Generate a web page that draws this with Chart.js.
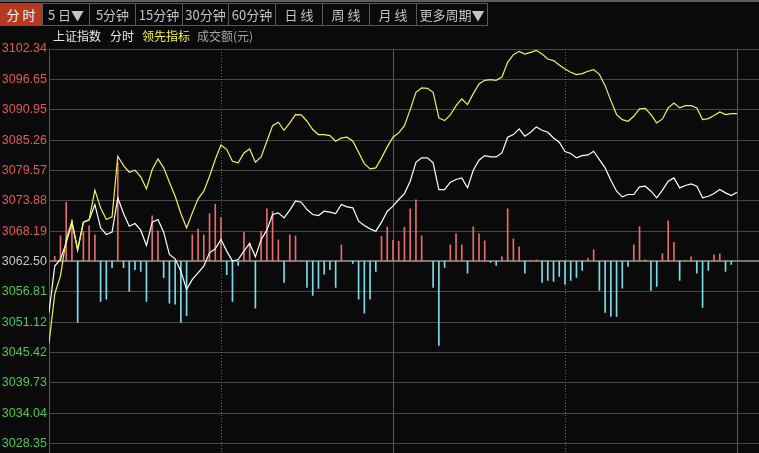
<!DOCTYPE html>
<html>
<head>
<meta charset="utf-8">
<script src="https://cdn.jsdelivr.net/npm/chart.js@4.4.0/dist/chart.umd.min.js"></script>
<style>
html,body{margin:0;padding:0;background:#0a0a0a;width:759px;height:453px;overflow:hidden;}
#wrap{position:absolute;left:0;top:0;width:759px;height:453px;}
#c{position:absolute;left:0;top:0;}
#topline{position:absolute;left:0;top:0;width:759px;height:2px;background:#5e5e5e;z-index:3;}
.btn{position:absolute;top:3px;height:23px;box-sizing:border-box;border:1px solid #5a5a5a;color:#c4c4c4;
 font:13px "Noto Sans CJK SC",sans-serif;line-height:21px;text-align:center;background:#0a0a0a;z-index:2;white-space:nowrap;}
.btn.active{background:#b53a1d;color:#f4f4f4;border-color:#b53a1d;}
.lg{position:absolute;top:28px;font:12px "Noto Sans CJK SC",sans-serif;line-height:16px;z-index:2;white-space:nowrap;}
</style>
</head>
<body>
<div id="wrap">
  <canvas id="c" width="759" height="453"></canvas>
  <div id="topline"></div>
  <div class="btn active" style="left:0;width:42px;">分 时</div>
  <div class="btn" style="left:42px;width:48px;">5 日▼</div>
  <div class="btn" style="left:89px;width:47px;">5分钟</div>
  <div class="btn" style="left:135px;width:48px;">15分钟</div>
  <div class="btn" style="left:182px;width:47px;">30分钟</div>
  <div class="btn" style="left:228px;width:48px;">60分钟</div>
  <div class="btn" style="left:275px;width:48px;">日 线</div>
  <div class="btn" style="left:322px;width:48px;">周 线</div>
  <div class="btn" style="left:369px;width:48px;">月 线</div>
  <div class="btn" style="left:416px;width:72px;">更多周期▼</div>
  <div class="lg" style="left:53px;color:#e6e6e6;">上证指数</div>
  <div class="lg" style="left:110px;color:#e6e6e6;">分时</div>
  <div class="lg" style="left:142px;color:#f2f23c;">领先指标</div>
  <div class="lg" style="left:197px;color:#a8a8a8;">成交额(元)</div>
</div>
<script>
// ---- data (4 trading days, 30 steps each, index 0 = first open) ----
const prevClose = 3062.50;
const yTicks = [3102.34, 3096.65, 3090.95, 3085.26, 3079.57, 3073.88, 3068.19,
                3062.50, 3056.81, 3051.12, 3045.42, 3039.73, 3034.04, 3028.35];
const dayBreaks = [30, 60, 90, 120];
const breakDotted = [true, false, true, false];

// 领先指标 (yellow)
const leadLine = [
  3047.12,3056.40,3059.80,3066.61,3070.05,3064.74,3069.86,3070.36,3075.86,3072.55,
  3070.36,3070.86,3082.23,3080.48,3079.23,3079.61,3078.36,3076.11,3079.73,3081.73,
  3080.04,3077.36,3074.73,3071.48,3068.80,3071.61,3074.23,3075.67,3078.48,3081.60,
  3084.35,
  3083.48,3081.29,3080.98,3082.85,3083.60,3081.10,3082.10,3085.04,3087.97,3088.60,
  3087.10,3088.47,3090.04,3089.97,3088.79,3087.23,3086.29,3086.29,3086.10,3085.04,
  3085.66,3085.79,3085.04,3082.98,3080.85,3079.85,3080.04,3081.92,3083.98,3085.79,
  3086.60,3087.97,3090.97,3094.22,3095.03,3094.97,3094.22,3089.41,3088.91,3089.97,
  3091.72,3092.97,3091.91,3093.97,3095.78,3096.47,3096.59,3096.47,3097.09,3099.84,
  3101.28,3101.90,3101.40,3101.72,3102.09,3101.40,3100.47,3100.16,3099.34,3098.59,
  3097.97,3097.53,3097.72,3098.16,3098.47,3097.59,3095.47,3092.66,3090.04,3089.10,
  3088.79,3089.72,3091.10,3091.22,3090.04,3088.47,3089.22,3091.29,3092.22,3091.29,
  3091.72,3091.72,3091.29,3089.10,3089.29,3089.85,3090.54,3090.04,3090.22,3090.22
];
// 上证指数 分时 (white)
const indexLine = [
  3052.87,3061.62,3062.86,3065.99,3069.74,3064.61,3069.86,3070.24,3073.17,3068.80,
  3067.55,3067.99,3074.42,3071.48,3069.11,3069.61,3068.36,3065.49,3069.86,3070.36,
  3067.99,3063.80,3062.99,3060.68,3057.24,3059.12,3060.37,3061.62,3064.11,3064.86,
  3066.61,
  3064.43,3062.55,3062.86,3064.43,3065.86,3063.36,3066.61,3068.36,3071.30,3071.61,
  3070.67,3072.11,3073.86,3073.61,3072.23,3071.30,3071.11,3071.92,3071.73,3071.48,
  3073.17,3072.73,3072.55,3070.05,3069.24,3068.61,3068.17,3069.86,3071.92,3072.86,
  3074.11,3075.23,3077.54,3081.10,3081.92,3081.92,3080.98,3075.98,3075.98,3077.36,
  3077.86,3078.17,3076.29,3079.61,3081.48,3082.35,3082.10,3082.10,3082.85,3085.79,
  3086.29,3087.35,3085.98,3086.73,3087.73,3087.10,3086.73,3085.66,3084.85,3083.10,
  3082.73,3081.92,3082.35,3082.48,3083.17,3081.60,3080.04,3077.73,3075.67,3074.61,
  3075.05,3075.05,3076.48,3076.61,3075.67,3074.42,3075.86,3077.54,3078.17,3076.29,
  3076.73,3077.04,3076.61,3074.42,3074.73,3075.23,3075.98,3075.36,3074.86,3075.48
];
// red/green strength bars (arbitrary units)
const strengthBars = [
  0,5,25.7,59,41.7,-61,30,35.7,26.7,-40,-37.7,-6.3,99,-6.3,-30,-8.3,-10,-40,45.7,30.7,
  -16.3,-41.7,-42.7,-61,-54.3,26.7,32.3,26.7,47.7,57,44,
  -13.3,-40,-4,29,18.3,-46.7,30,52.7,50,21.7,-21,26.7,25.7,0.5,-26,-34,-27,-12.7,-8.3,
  -26,16.7,0.5,-2,-37.7,-51.7,-37.7,-10,25,34.3,21,
  20,34,52.7,61.7,25.7,0.5,-26,-84,-6,16.7,27.7,16.7,-11.7,34.7,27.7,20.7,-1,-4,4.7,
  52.7,22.7,14.7,-11.7,0.5,1.7,-21,-19,-20,-15,-23,
  -19,-16,-9,3.3,11.7,-29,-51,-55,-55,-26.7,-5,16.7,34.7,1.7,-29,-25,7.7,40.7,19,-19,
  1,4.7,-11.7,-46,-9,6.7,7.7,-10,-3,0
];

// ---- layout / style ----
const yMin = yTicks[yTicks.length - 1], yMax = yTicks[0];
const barUnit = 0.18746;              // price span of one bar unit
const xMax = 123.84;                  // leaves the empty strip at the right
const RED = '#e46c6c', CYAN = '#7adce8';

const dividerPlugin = {
  id: 'dividers',
  beforeDatasetsDraw(chart) {
    const { ctx, chartArea, scales: { x } } = chart;
    ctx.save();
    ctx.lineWidth = 1;
    dayBreaks.forEach((b, i) => {
      const px = Math.round(x.getPixelForValue(b)) + 0.5;
      ctx.strokeStyle = breakDotted[i] ? '#6a6a6a' : '#585858';
      ctx.setLineDash(breakDotted[i] ? [1, 2] : []);
      ctx.beginPath();
      ctx.moveTo(px, chartArea.top);
      ctx.lineTo(px, chart.height);
      ctx.stroke();
    });
    ctx.setLineDash([]);
    ctx.strokeStyle = '#585858';
    const lx = Math.round(chartArea.left) + 0.5;
    ctx.beginPath();
    ctx.moveTo(lx, chartArea.top);
    ctx.lineTo(lx, chart.height);
    ctx.stroke();
    ctx.restore();
  }
};

new Chart(document.getElementById('c'), {
  data: {
    datasets: [
      {
        type: 'line', label: '领先指标', order: 0,
        data: leadLine.map((v, i) => ({ x: i, y: v })),
        borderColor: '#f2f250', borderWidth: 1.2, pointRadius: 0, tension: 0,
        xAxisID: 'x', yAxisID: 'y'
      },
      {
        type: 'line', label: '分时', order: 1,
        data: indexLine.map((v, i) => ({ x: i, y: v })),
        borderColor: '#ffffff', borderWidth: 1.2, pointRadius: 0, tension: 0,
        xAxisID: 'x', yAxisID: 'y'
      },
      {
        type: 'bar', label: '成交额(元)', order: 2,
        data: strengthBars.map((v, i) => ({ x: i, y: v })),
        backgroundColor: c => (c.raw && c.raw.y >= 0) ? RED : CYAN,
        barThickness: 1,
        xAxisID: 'x', yAxisID: 'yb'
      }
    ]
  },
  options: {
    responsive: false,
    animation: false,
    events: [],
    layout: { padding: { top: 49, bottom: 9, left: 0, right: 0 } },
    plugins: { legend: { display: false }, tooltip: { enabled: false } },
    scales: {
      x: { type: 'linear', min: 0, max: xMax, display: false, offset: false },
      y: {
        type: 'linear', position: 'left', min: yMin, max: yMax,
        afterBuildTicks: s => { s.ticks = yTicks.map(v => ({ value: v })); },
        afterFit: s => { s.width = 49; },
        ticks: {
          padding: 2,
          autoSkip: false,
          font: { family: 'Liberation Sans', size: 12.5 },
          color: c => {
            const v = c.tick.value;
            if (Math.abs(v - prevClose) < 1e-6) return '#c4c4c4';
            return v > prevClose ? '#e05a5a' : '#4cc84c';
          },
          callback: v => Number(v).toFixed(2)
        },
        grid: {
          drawTicks: false,
          color: c => (c.tick && Math.abs(c.tick.value - prevClose) < 1e-6) ? '#767676' : '#474747',
          lineWidth: c => (c.tick && Math.abs(c.tick.value - prevClose) < 1e-6) ? 2 : 1
        },
        border: { display: false }
      },
      yb: {
        type: 'linear', display: false,
        min: -(prevClose - yMin) / barUnit,
        max: (yMax - prevClose) / barUnit
      }
    }
  },
  plugins: [dividerPlugin]
});
</script>
</body>
</html>
